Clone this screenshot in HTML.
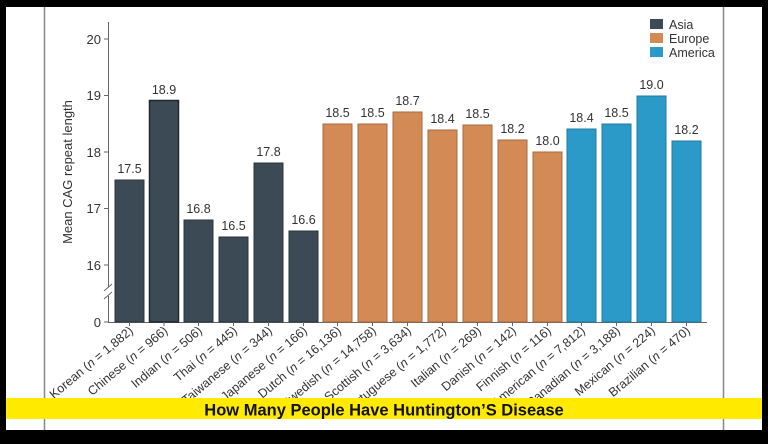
<!DOCTYPE html>
<html><head><meta charset="utf-8"><style>
html,body{margin:0;padding:0;background:#000;}
svg{display:block;font-family:"Liberation Sans",Arial,sans-serif;}
</style></head><body>
<svg width="768" height="444" viewBox="0 0 768 444" xmlns="http://www.w3.org/2000/svg">
<rect x="0" y="0" width="768" height="444" fill="#000"/>
<rect x="6" y="7" width="756" height="423" fill="#fff"/>
<line x1="44.5" y1="7" x2="44.5" y2="430" stroke="#888" stroke-width="1.5"/>
<line x1="723.5" y1="7" x2="723.5" y2="430" stroke="#888" stroke-width="1.5"/>
<g id="chart">
<line x1="108.5" y1="22" x2="108.5" y2="287" stroke="#666"/>
<line x1="108.5" y1="296" x2="108.5" y2="322" stroke="#666"/>
<line x1="104" y1="291" x2="112" y2="284" stroke="#666"/>
<line x1="104" y1="299" x2="112" y2="292" stroke="#666"/>
<line x1="108" y1="322.5" x2="707" y2="322.5" stroke="#666"/>
<g stroke="#666">
<line x1="104" y1="39" x2="108" y2="39"/><line x1="104" y1="95.5" x2="108" y2="95.5"/>
<line x1="104" y1="152" x2="108" y2="152"/><line x1="104" y1="208.5" x2="108" y2="208.5"/>
<line x1="104" y1="265" x2="108" y2="265"/><line x1="104" y1="322" x2="108" y2="322"/>
</g>
<g font-size="13" fill="#333" text-anchor="end">
<text x="101" y="44">20</text><text x="101" y="100">19</text><text x="101" y="157">18</text>
<text x="101" y="213">17</text><text x="101" y="270">16</text><text x="101" y="327">0</text>
</g>
<text transform="translate(72,172) rotate(-90)" font-size="13" fill="#333" text-anchor="middle">Mean CAG repeat length</text>
<g font-size="12.5" fill="#333" text-anchor="middle">
<rect x="115" y="180" width="29" height="142" fill="#3b4a54" stroke="#2a353c"/><text x="129.5" y="173">17.5</text>
<rect x="149.5" y="100.5" width="29" height="221.5" fill="#3b4a54" stroke="#1f282d" stroke-width="1.5"/><text x="164" y="94">18.9</text>
<rect x="184" y="220" width="29" height="102" fill="#3b4a54" stroke="#2a353c"/><text x="198.5" y="213">16.8</text>
<rect x="219" y="237" width="29" height="85" fill="#3b4a54" stroke="#2a353c"/><text x="233.5" y="230">16.5</text>
<rect x="254" y="163" width="29" height="159" fill="#3b4a54" stroke="#2a353c"/><text x="268.5" y="156">17.8</text>
<rect x="289" y="231" width="29" height="91" fill="#3b4a54" stroke="#2a353c"/><text x="303.5" y="224">16.6</text>
<rect x="323" y="124" width="29" height="198" fill="#d48a55" stroke="#a86a3e"/><text x="337.5" y="117">18.5</text>
<rect x="358" y="124" width="29" height="198" fill="#d48a55" stroke="#a86a3e"/><text x="372.5" y="117">18.5</text>
<rect x="393" y="112" width="29" height="210" fill="#d48a55" stroke="#a86a3e"/><text x="407.5" y="105">18.7</text>
<rect x="428" y="130" width="29" height="192" fill="#d48a55" stroke="#a86a3e"/><text x="442.5" y="123">18.4</text>
<rect x="463" y="125" width="29" height="197" fill="#d48a55" stroke="#a86a3e"/><text x="477.5" y="118">18.5</text>
<rect x="498" y="140" width="29" height="182" fill="#d48a55" stroke="#a86a3e"/><text x="512.5" y="133">18.2</text>
<rect x="533" y="152" width="29" height="170" fill="#d48a55" stroke="#a86a3e"/><text x="547.5" y="145">18.0</text>
<rect x="567" y="129" width="29" height="193" fill="#2b9ac8" stroke="#1f7aa0"/><text x="581.5" y="122">18.4</text>
<rect x="602" y="124" width="29" height="198" fill="#2b9ac8" stroke="#1f7aa0"/><text x="616.5" y="117">18.5</text>
<rect x="637" y="96" width="29" height="226" fill="#2b9ac8" stroke="#1f7aa0"/><text x="651.5" y="89">19.0</text>
<rect x="672" y="141" width="29" height="181" fill="#2b9ac8" stroke="#1f7aa0"/><text x="686.5" y="134">18.2</text>
</g>
<g stroke="#666">
<line x1="129.5" y1="322" x2="129.5" y2="326"/><line x1="164" y1="322" x2="164" y2="326"/><line x1="198.5" y1="322" x2="198.5" y2="326"/><line x1="233.5" y1="322" x2="233.5" y2="326"/><line x1="268.5" y1="322" x2="268.5" y2="326"/><line x1="303.5" y1="322" x2="303.5" y2="326"/><line x1="337.5" y1="322" x2="337.5" y2="326"/><line x1="372.5" y1="322" x2="372.5" y2="326"/><line x1="407.5" y1="322" x2="407.5" y2="326"/><line x1="442.5" y1="322" x2="442.5" y2="326"/><line x1="477.5" y1="322" x2="477.5" y2="326"/><line x1="512.5" y1="322" x2="512.5" y2="326"/><line x1="547.5" y1="322" x2="547.5" y2="326"/><line x1="581.5" y1="322" x2="581.5" y2="326"/><line x1="616.5" y1="322" x2="616.5" y2="326"/><line x1="651.5" y1="322" x2="651.5" y2="326"/><line x1="686.5" y1="322" x2="686.5" y2="326"/>
</g>
<g font-size="12.5" fill="#333" text-anchor="end">
<text transform="translate(134,332) rotate(-40)">Korean (<tspan font-style="italic">n</tspan> = 1,882)</text>
<text transform="translate(168.5,332) rotate(-40)">Chinese (<tspan font-style="italic">n</tspan> = 966)</text>
<text transform="translate(203,332) rotate(-40)">Indian (<tspan font-style="italic">n</tspan> = 506)</text>
<text transform="translate(238,332) rotate(-40)">Thai (<tspan font-style="italic">n</tspan> = 445)</text>
<text transform="translate(273,332) rotate(-40)">Taiwanese (<tspan font-style="italic">n</tspan> = 344)</text>
<text transform="translate(308,332) rotate(-40)">Japanese (<tspan font-style="italic">n</tspan> = 166)</text>
<text transform="translate(342,332) rotate(-40)">Dutch (<tspan font-style="italic">n</tspan> = 16,136)</text>
<text transform="translate(377,332) rotate(-40)">Swedish (<tspan font-style="italic">n</tspan> = 14,758)</text>
<text transform="translate(412,332) rotate(-40)">Scottish (<tspan font-style="italic">n</tspan> = 3,634)</text>
<text transform="translate(447,332) rotate(-40)">Portuguese (<tspan font-style="italic">n</tspan> = 1,772)</text>
<text transform="translate(482,332) rotate(-40)">Italian (<tspan font-style="italic">n</tspan> = 269)</text>
<text transform="translate(517,332) rotate(-40)">Danish (<tspan font-style="italic">n</tspan> = 142)</text>
<text transform="translate(552,332) rotate(-40)">Finnish (<tspan font-style="italic">n</tspan> = 116)</text>
<text transform="translate(586,332) rotate(-40)">American (<tspan font-style="italic">n</tspan> = 7,812)</text>
<text transform="translate(621,332) rotate(-40)">Canadian (<tspan font-style="italic">n</tspan> = 3,188)</text>
<text transform="translate(656,332) rotate(-40)">Mexican (<tspan font-style="italic">n</tspan> = 224)</text>
<text transform="translate(691,332) rotate(-40)">Brazilian (<tspan font-style="italic">n</tspan> = 470)</text>
</g>
<g font-size="12.5" fill="#333">
<rect x="650" y="19" width="13" height="10" fill="#3b4a54"/><text x="669" y="29">Asia</text>
<rect x="650" y="33" width="13" height="10" fill="#d48a55"/><text x="669" y="43">Europe</text>
<rect x="650" y="47" width="13" height="10" fill="#2b9ac8"/><text x="669" y="57">America</text>
</g>
</g>
<rect x="6" y="398" width="756" height="21" fill="#ffea00"/>
<text x="384" y="415.5" font-size="16.5" font-weight="bold" fill="#111" text-anchor="middle">How Many People Have Huntington’S Disease</text>
</svg>
</body></html>
